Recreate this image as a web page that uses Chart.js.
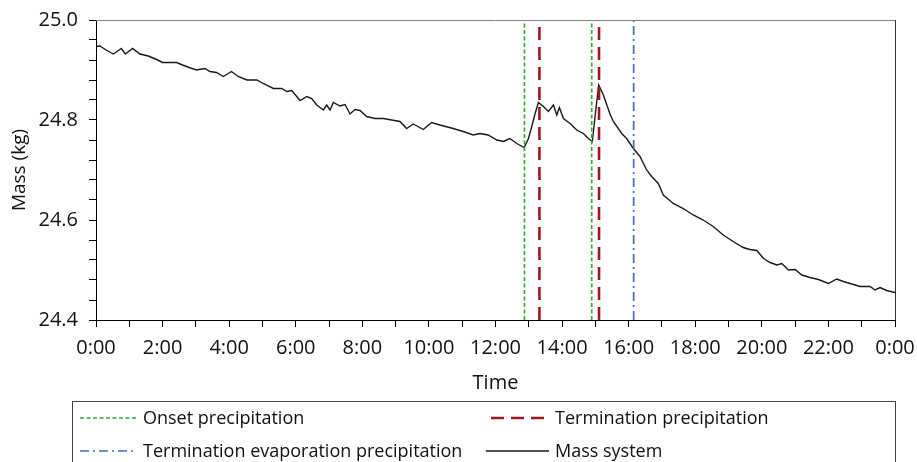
<!DOCTYPE html>
<html>
<head>
<meta charset="utf-8">
<script src="https://cdn.jsdelivr.net/npm/chart.js@4.4.0/dist/chart.umd.min.js"></script>
<style>
  html, body { margin: 0; padding: 0; background: #fff; }
</style>
</head>
<body>
<canvas id="massChart" width="917" height="462"></canvas>
<script>
// time of day in hours, mass
const timeHours = [
  0.00, 0.12, 0.30, 0.52, 0.76, 0.88, 1.10, 1.32, 1.57, 1.82,
  2.00, 2.42, 2.60, 2.80, 3.02, 3.27, 3.42, 3.62, 3.82, 4.07,
  4.27, 4.53, 4.83, 5.02, 5.33, 5.58, 5.73, 5.88, 6.13, 6.33,
  6.48, 6.63, 6.83, 6.93, 7.03, 7.13, 7.33, 7.48, 7.63, 7.78,
  7.93, 8.13, 8.38, 8.63, 8.88, 9.13, 9.33, 9.53, 9.83, 10.08,
  10.33, 10.73, 11.03, 11.33, 11.53, 11.78, 12.04, 12.24, 12.43, 12.64,
  12.86, 12.99, 13.09, 13.19, 13.29, 13.44, 13.59, 13.74, 13.84, 13.92,
  14.04, 14.24, 14.44, 14.64, 14.79, 14.91, 14.99, 15.10, 15.24, 15.44,
  15.54, 15.79, 15.94, 16.14, 16.34, 16.54, 16.69, 16.89, 17.04, 17.34,
  17.64, 17.94, 18.24, 18.54, 18.84, 19.14, 19.44, 19.64, 19.85, 20.05,
  20.25, 20.45, 20.60, 20.80, 21.00, 21.20, 21.45, 21.70, 22.00, 22.25,
  22.45, 22.65, 22.95, 23.25, 23.40, 23.55, 23.75, 24.00
];
const massKg = [
  24.947, 24.948, 24.940, 24.932, 24.943, 24.932, 24.943, 24.932, 24.928, 24.921,
  24.915, 24.915, 24.910, 24.905, 24.900, 24.903, 24.897, 24.895, 24.887, 24.897,
  24.887, 24.880, 24.880, 24.873, 24.863, 24.863, 24.857, 24.859, 24.839, 24.847,
  24.843, 24.830, 24.820, 24.830, 24.820, 24.835, 24.828, 24.831, 24.812, 24.821,
  24.819, 24.807, 24.803, 24.803, 24.800, 24.797, 24.783, 24.792, 24.781, 24.795,
  24.790, 24.783, 24.777, 24.770, 24.773, 24.770, 24.760, 24.757, 24.763, 24.753,
  24.745, 24.763, 24.787, 24.813, 24.835, 24.827, 24.817, 24.830, 24.810, 24.825,
  24.803, 24.793, 24.780, 24.773, 24.763, 24.757, 24.807, 24.870, 24.850, 24.812,
  24.797, 24.773, 24.763, 24.743, 24.727, 24.700, 24.687, 24.673, 24.650, 24.633,
  24.623, 24.610, 24.600, 24.587, 24.570, 24.557, 24.545, 24.541, 24.539, 24.523,
  24.515, 24.510, 24.513, 24.500, 24.501, 24.490, 24.485, 24.481, 24.473, 24.482,
  24.477, 24.473, 24.467, 24.467, 24.460, 24.465, 24.459, 24.455
];

const onsetTimes = [12.87, 14.89];
const terminationTimes = [13.32, 15.11];
const evaporationTimes = [16.15];

const xTickLabels = ['0:00', '2:00', '4:00', '6:00', '8:00', '10:00', '12:00',
  '14:00', '16:00', '18:00', '20:00', '22:00', '0:00'];
const yMin = 24.4, yMax = 25.0;

const FONT = "'Open Sans', sans-serif";

// vertical marker lines, separated by null points
function vLines(times) {
  const pts = [];
  times.forEach((t, i) => {
    if (i > 0) pts.push({ x: t, y: null });
    pts.push({ x: t, y: yMin }, { x: t, y: yMax });
  });
  return pts;
}

const plotFrame = {
  id: 'plotFrame',
  afterDatasetsDraw(chart) {
    const { ctx, chartArea: a } = chart;
    ctx.save();
    ctx.lineWidth = 1;
    ctx.strokeStyle = '#808080';
    ctx.beginPath();
    ctx.moveTo(a.left, a.top + 0.5);
    ctx.lineTo(a.right, a.top + 0.5);
    ctx.stroke();
    ctx.strokeStyle = '#333';
    ctx.beginPath();
    ctx.moveTo(a.right + 0.5, a.top);
    ctx.lineTo(a.right + 0.5, a.bottom);
    ctx.stroke();
    ctx.restore();
  }
};

const boxLegend = {
  id: 'boxLegend',
  afterDraw(chart, args, opts) {
    const { ctx } = chart;
    const b = opts.box;
    ctx.save();
    ctx.strokeStyle = '#444';
    ctx.lineWidth = 1;
    ctx.strokeRect(b.left + 0.5, b.top + 0.5, b.right - b.left, b.bottom - b.top);
    ctx.font = opts.font;
    ctx.fillStyle = '#111';
    ctx.textBaseline = 'middle';
    opts.items.forEach(item => {
      const ds = chart.data.datasets[item.index];
      ctx.save();
      ctx.strokeStyle = ds.borderColor;
      ctx.lineWidth = ds.borderWidth;
      ctx.setLineDash(ds.borderDash || []);
      ctx.beginPath();
      ctx.moveTo(item.x, item.y);
      ctx.lineTo(item.x + item.len, item.y);
      ctx.stroke();
      ctx.restore();
      ctx.fillText(ds.label, item.x + item.len + 6, item.y + 1);
    });
    ctx.restore();
  }
};

new Chart(document.getElementById('massChart'), {
  type: 'line',
  data: {
    datasets: [
      {
        label: 'Onset precipitation',
        data: vLines(onsetTimes),
        borderColor: '#3aa83a',
        borderWidth: 1.7,
        borderDash: [4, 2.5],
        pointRadius: 0
      },
      {
        label: 'Termination precipitation',
        data: vLines(terminationTimes),
        borderColor: '#a3161f',
        borderWidth: 2.6,
        borderDash: [13, 7],
        pointRadius: 0
      },
      {
        label: 'Termination evaporation precipitation',
        data: vLines(evaporationTimes),
        borderColor: '#3a6fc8',
        borderWidth: 1.7,
        borderDash: [9, 4, 2, 4],
        pointRadius: 0
      },
      {
        label: 'Mass system',
        data: timeHours.map((t, i) => ({ x: t, y: massKg[i] })),
        borderColor: '#1a1a1a',
        borderWidth: 1.4,
        pointRadius: 0,
        tension: 0
      }
    ]
  },
  options: {
    responsive: false,
    animation: false,
    layout: { padding: { top: 20, right: 22, bottom: 60, left: 0 } },
    plugins: {
      legend: { display: false },
      tooltip: { enabled: false },
      boxLegend: {
        font: "18px 'Open Sans', sans-serif",
        box: { left: 72, top: 401, right: 895, bottom: 470 },
        items: [
          { index: 0, x: 80, y: 418, len: 57 },
          { index: 1, x: 491, y: 418, len: 58 },
          { index: 2, x: 80, y: 451, len: 57 },
          { index: 3, x: 486, y: 451, len: 63 }
        ]
      }
    },
    scales: {
      x: {
        type: 'linear',
        min: 0,
        max: 24,
        afterFit: s => { s.height = 82; s.paddingLeft = 0; s.paddingRight = 0; },
        grid: { drawOnChartArea: false, drawTicks: true, tickLength: 7, color: '#000' },
        border: { color: '#000', width: 1 },
        ticks: {
          stepSize: 1,
          autoSkip: false,
          maxRotation: 0,
          padding: 9,
          color: '#111',
          font: { family: FONT, size: 20 },
          callback: v => (v % 2 === 0 ? xTickLabels[v / 2] : '')
        },
        title: {
          display: true,
          text: 'Time',
          color: '#111',
          font: { family: FONT, size: 20 },
          padding: { top: 0, bottom: 7 }
        }
      },
      y: {
        min: yMin,
        max: yMax,
        afterFit: s => { s.width = 96; s.paddingTop = 0; s.paddingBottom = 0; },
        grid: { drawOnChartArea: false, drawTicks: true, tickLength: 7, color: '#000' },
        border: { color: '#000', width: 1 },
        ticks: {
          stepSize: 0.04,
          autoSkip: false,
          padding: 11,
          color: '#111',
          font: { family: FONT, size: 20 },
          callback: v => (Math.round(v * 100) % 20 === 0 ? v.toFixed(1) : '')
        },
        title: {
          display: true,
          text: 'Mass (kg)',
          color: '#111',
          font: { family: FONT, size: 19 },
          padding: { top: 8, bottom: 0 }
        }
      }
    }
  },
  plugins: [plotFrame, boxLegend]
});
</script>
</body>
</html>
